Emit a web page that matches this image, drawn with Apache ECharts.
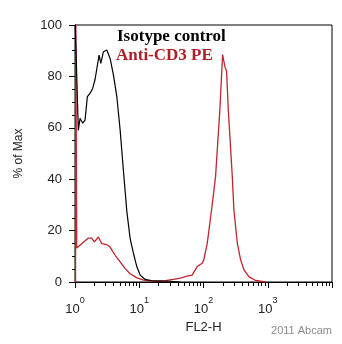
<!DOCTYPE html>
<html>
<head>
<meta charset="utf-8">
<script src="https://cdn.jsdelivr.net/npm/echarts@6/dist/echarts.min.js"></script>
<style>
html,body{margin:0;padding:0;background:#fff;}
#chart{width:342px;height:344px;}
</style>
</head>
<body>
<div id="chart"></div>
<script>
// FL2-H channel values (log scale) and % of Max
var isotypeX = [1.01, 1.126, 1.197, 1.319, 1.433, 1.556, 1.715, 1.891, 2.054, 2.183, 2.371, 2.521, 2.768, 2.943, 3.127, 3.313, 3.522, 3.966, 4.484, 5.047, 5.684, 6.424, 7.230, 8.146, 9.207, 10.37, 12.41, 16.55, 30.5, 43.7];
var isotypeY = [100, 59, 63.7, 61.8, 63, 72.1, 73.4, 75.4, 78.9, 79.3, 88.3, 85.1, 89.6, 89.6, 90.3, 90.3, 87, 80.5, 72, 59, 43, 27.2, 16.8, 11, 5.8, 2.6, 1, 0.4, 0.3, 0];

var cd3X = [1.02, 1.03, 1.063, 1.272, 1.614, 1.823, 2.003, 2.312, 2.613, 3.127, 3.522, 4.217, 5.047, 6.043, 7.230, 9.207, 11.67, 16.72, 25.5, 33.98, 43.7, 55.6, 66.6, 79.7, 95.4, 101.1, 114.3, 133.4, 154, 179.8, 198.1, 215.3, 228.7, 243.2, 280.6, 297.3, 336.3, 378.4, 426.6, 510.8, 649.4, 930.4];
var cd3Y = [0, 100, 13.2, 14.9, 17.1, 17.1, 15.6, 17.5, 14.9, 14.5, 13.6, 10.4, 7.8, 5.2, 3.2, 1.6, 0.7, 0.3, 0.5, 1, 1.5, 2.3, 2.7, 6, 7.3, 8.6, 15, 28, 41, 67, 88.5, 83.8, 82, 67, 41, 28, 15, 8.6, 4.7, 2, 0.6, 0];

var xMajorTicks = [1, 10, 100, 1000, 10000];
var xLabelTicks = [1, 10, 100, 1000];
var xLabelExponents = {1: '0', 10: '1', 100: '2', 1000: '3'};
var xMinorTicks = [2,3,4,5,6,7,8,9,20,30,40,50,60,70,80,90,200,300,400,500,600,700,800,900,2000,3000,4000,5000,6000,7000,8000,9000];

var seriesNames = ['Isotype control', 'Anti-CD3 PE'];

function pairs(xs, ys) {
  var out = [];
  for (var i = 0; i < xs.length; i++) out.push([xs[i], ys[i]]);
  return out;
}

var chart = echarts.init(document.getElementById('chart'), null, {renderer: 'canvas'});
var axisColor = '#000';
var labelColor = '#222';
chart.setOption({
  animation: false,
  backgroundColor: '#fff',
  title: [
    {text: seriesNames[0], left: 117, top: 28, padding: 0,
     textStyle: {fontFamily: 'Liberation Serif', fontWeight: 'bold', fontSize: 17, color: '#000'}},
    {text: seriesNames[1], left: 116, top: 47, padding: 0,
     textStyle: {fontFamily: 'Liberation Serif', fontWeight: 'bold', fontSize: 17, color: '#b01f27'}}
  ],
  grid: {left: 75, top: 25, right: 10, bottom: 62, show: true, borderColor: '#000', borderWidth: 1, containLabel: false},
  xAxis: [
    {
      type: 'log', logBase: 10, min: 1, max: 10000,
      name: 'FL2-H', nameLocation: 'middle', nameGap: 37,
      nameTextStyle: {fontFamily: 'Liberation Sans', fontSize: 13, color: labelColor},
      axisLine: {show: true, lineStyle: {color: axisColor, width: 1}},
      axisTick: {show: true, length: 6, customValues: xMajorTicks, lineStyle: {color: axisColor}},
      minorTick: {show: false},
      splitLine: {show: false},
      axisLabel: {
        margin: 14, customValues: xLabelTicks,
        formatter: function (v) { var e = xLabelExponents[v] !== undefined ? xLabelExponents[v] : String(Math.round(Math.log10(v))); return '{b|10}{s|' + e + '}'; },
        rich: {
          b: {fontFamily: 'Liberation Sans', fontSize: 13, color: labelColor, padding: [7, 0, 0, 0]},
          s: {fontFamily: 'Liberation Sans', fontSize: 9, color: labelColor, verticalAlign: 'top'}
        }
      }
    },
    {
      type: 'log', logBase: 10, min: 1, max: 10000, position: 'bottom',
      axisLine: {show: false},
      axisTick: {show: true, length: 4, customValues: xMinorTicks, lineStyle: {color: axisColor}},
      axisLabel: {show: false},
      splitLine: {show: false}
    }
  ],
  yAxis: {
    type: 'value', min: 0, max: 100, interval: 20,
    name: '% of Max', nameLocation: 'middle', nameGap: 50,
    nameTextStyle: {fontFamily: 'Liberation Sans', fontSize: 12, color: labelColor},
    axisLine: {show: true, lineStyle: {color: axisColor, width: 1}},
    axisTick: {show: true, length: 6, lineStyle: {color: axisColor}},
    minorTick: {show: true, splitNumber: 4, length: 3, lineStyle: {color: axisColor}},
    splitLine: {show: false},
    axisLabel: {margin: 13, fontFamily: 'Liberation Sans', fontSize: 13, color: labelColor}
  },
  series: [
    {name: seriesNames[0], type: 'line', xAxisIndex: 0, data: pairs(isotypeX, isotypeY), showSymbol: false, symbol: 'none',
     lineStyle: {color: '#000', width: 1.2}, z: 3},
    {name: seriesNames[1], type: 'line', xAxisIndex: 0, data: pairs(cd3X, cd3Y), showSymbol: false, symbol: 'none',
     lineStyle: {color: '#c0242c', width: 1.3}, z: 2}
  ],
  graphic: [
    {type: 'text', right: 10, top: 325,
     style: {text: '2011 Abcam', fontFamily: 'Liberation Sans', fontSize: 11, fill: '#8a8a8a'}}
  ]
});
</script>
</body>
</html>
